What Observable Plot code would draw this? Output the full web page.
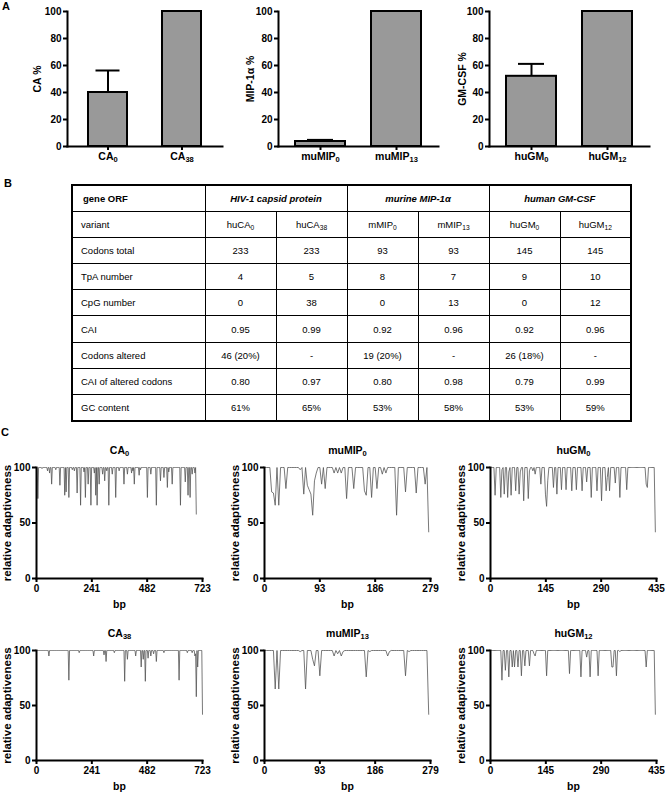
<!DOCTYPE html>
<html>
<head>
<meta charset="utf-8">
<script src="https://cdn.jsdelivr.net/npm/d3@7"></script>
<script src="https://cdn.jsdelivr.net/npm/@observablehq/plot@0.6"></script>
<style>
  body { margin: 0; background: #fff; }
  #fig { position: relative; width: 665px; height: 793px; overflow: hidden;
         font-family: "Liberation Sans", Arial, Helvetica, sans-serif; color: #000; }
  .panel { position: absolute; }
  .letter { position: absolute; font-weight: bold; font-size: 11px; line-height: 1; }
  #tbl { position: absolute; left: 71px; top: 184px; border-collapse: collapse; table-layout: fixed;
         width: 559px; border: 2px solid #000; font-size: 9.5px; }
  #tbl td { border: 1px solid #000; padding: 0; text-align: center; vertical-align: middle; white-space: nowrap; }
  #tbl tr { height: 26.2px; }
  #tbl td.lab { text-align: left; padding-left: 8px; }
  #tbl td.hd { font-weight: bold; padding-left: 10px; }
  #tbl td.grp { font-weight: bold; font-style: italic; }
  #tbl sub { font-size: 70%; vertical-align: -0.35em; line-height: 0; }
</style>
</head>
<body>
<div id="fig">
  <div class="letter" style="left:2px;top:1px;">A</div>
  <div class="letter" style="left:4px;top:178px;">B</div>
  <div class="letter" style="left:1px;top:427px;">C</div>
</div>
<script>
// ---------- Panel A data ----------
const barCatsCA = ["CA_0", "CA_38"];
const barCatsMIP = ["muMIP_0", "muMIP_13"];
const barCatsGM = ["huGM_0", "huGM_12"];
const barMeansCA = [40, 100];
const barMeansMIP = [3.7, 100];
const barMeansGM = [52, 100];
const barErrCA = [16.3, 0];
const barErrMIP = [1.2, 0];
const barErrGM = [9.2, 0];
const barLabels = ["CA %", "MIP-1α %", "GM-CSF %"];
const yTicksA = [0, 20, 40, 60, 80, 100];

// ---------- Panel B data ----------
const tableCorner = "gene ORF";
const tableGroups = ["HIV-1 capsid protein", "murine MIP-1α", "human GM-CSF"];
const tableVariantLabel = "variant";
const tableVariants = ["huCA_0", "huCA_38", "mMIP_0", "mMIP_13", "huGM_0", "huGM_12"];
const tableRowLabels = ["Codons total", "TpA number", "CpG number", "CAI", "Codons altered", "CAI of altered codons", "GC content"];
const rowCodonsTotal = ["233", "233", "93", "93", "145", "145"];
const rowTpA = ["4", "5", "8", "7", "9", "10"];
const rowCpG = ["0", "38", "0", "13", "0", "12"];
const rowCAI = ["0.95", "0.99", "0.92", "0.96", "0.92", "0.96"];
const rowAltered = ["46 (20%)", "-", "19 (20%)", "-", "26 (18%)", "-"];
const rowCAIAltered = ["0.80", "0.97", "0.80", "0.98", "0.79", "0.99"];
const rowGC = ["61%", "65%", "53%", "58%", "53%", "59%"];

// ---------- Panel C data (relative adaptiveness per codon) ----------
const lineTitles = ["CA_0", "muMIP_0", "huGM_0", "CA_38", "muMIP_13", "huGM_12"];
const xTicksCA = [0, 241, 482, 723];
const xTicksMIP = [0, 93, 186, 279];
const xTicksGM = [0, 145, 290, 435];
const yTicksC = [0, 50, 100];

const raCA0 = [100,100,72,100,100,100,100,100,99,100,
100,100,100,100,100,100,97,100,100,95,
100,100,85,100,100,100,100,100,98,100,
100,100,100,100,84,100,100,100,100,100,
100,75,100,78,100,100,100,73,100,100,
100,100,98,100,100,97,100,100,100,77,
100,100,100,100,66,100,100,100,100,96,
100,73,100,100,100,85,100,100,100,66,
100,100,100,100,95,100,75,100,66,100,
100,85,100,100,100,100,94,100,100,88,
100,100,97,100,100,66,100,100,100,100,
94,100,100,100,100,73,100,100,100,100,
97,100,100,100,100,100,100,85,100,100,
100,100,94,100,100,100,100,100,95,100,
97,100,85,100,100,100,100,100,100,93,
100,98,100,100,100,100,100,100,100,100,
100,73,100,100,100,100,94,100,100,100,
100,100,100,100,66,100,100,100,100,100,
88,100,100,100,100,91,100,100,100,100,
82,100,96,100,100,100,100,85,100,100,
100,100,100,100,100,100,100,100,100,66,
100,100,100,100,100,100,87,100,100,100,
75,100,100,73,100,100,94,100,100,100,
95,100,58];

const raCA38 = [100,100,100,100,100,100,100,100,100,100,
100,100,100,100,100,100,100,100,95,100,
100,100,100,100,100,100,100,100,100,100,
100,100,100,100,100,100,100,100,100,100,
100,100,100,100,100,100,100,73,100,100,
100,100,100,100,100,100,100,100,100,100,
100,100,98,100,100,100,100,100,100,100,
100,100,100,100,100,100,100,100,100,100,
100,100,100,95,100,100,100,100,100,100,
100,100,100,100,100,100,100,100,96,100,
100,90,100,100,100,100,100,100,100,100,
100,100,100,98,100,100,100,100,100,100,
100,100,100,100,100,100,100,100,72,100,
100,100,92,100,100,100,100,100,100,100,
100,100,100,100,95,100,100,100,100,100,
100,100,85,100,100,92,100,100,72,100,
100,100,93,100,100,100,95,100,100,100,
97,100,100,100,90,100,100,100,100,100,
100,100,100,100,100,98,100,100,100,100,
100,100,100,100,100,100,100,100,100,100,
100,100,100,100,100,100,100,73,100,100,
100,100,100,100,100,100,100,100,100,98,
100,100,100,100,100,100,98,100,100,100,
95,97,58,100,85,100,100,100,100,100,
100,42];

const raMIP0 = [100,100,100,100,78,77,66,100,66,100,
100,100,81,100,100,100,100,100,100,100,
98,100,76,100,84,80,76,57,88,95,
100,100,85,100,81,100,100,100,100,95,
100,95,100,95,100,100,72,100,100,100,
81,100,100,100,100,100,79,75,100,100,
73,100,100,81,100,100,94,100,95,100,
100,100,100,100,57,100,100,100,100,78,
100,100,100,100,100,77,100,100,100,100,
85,100,42];

const raMIP13 = [100,100,100,100,100,100,65,100,65,100,
100,100,100,100,100,100,100,100,100,100,
99,100,100,65,100,100,100,92,86,100,
100,77,100,100,100,100,100,100,100,95,
100,97,100,95,99,100,100,100,100,100,
100,100,100,100,100,100,100,76,100,99,
100,100,100,100,100,100,100,100,100,95,
99,100,100,100,100,100,100,100,100,77,
100,99,100,100,100,100,100,100,100,100,
100,100,42];

const raGM0 = [100,100,100,100,75,100,100,100,100,73,
98,100,76,100,100,73,96,100,75,100,
100,100,79,100,100,76,96,100,100,70,
100,100,100,72,97,100,100,97,100,94,
100,100,100,100,85,100,100,100,76,65,
88,100,100,100,100,82,100,100,76,100,
100,100,80,100,100,100,80,100,100,100,
100,79,100,100,100,80,100,100,100,100,
79,100,100,100,87,100,100,100,73,100,
100,100,100,79,100,100,100,70,100,100,
100,79,91,100,79,100,100,100,100,86,
100,100,100,73,100,100,100,100,100,80,
100,100,100,100,100,100,100,100,100,100,
100,100,100,100,100,100,85,82,100,100,
100,100,100,100,42];

const raGM12 = [100,100,100,100,100,100,100,100,100,100,
73,100,100,82,100,100,76,100,100,85,
100,85,100,100,85,100,100,77,100,100,
86,100,100,100,86,100,100,100,97,95,
100,100,100,100,100,100,100,100,100,77,
100,100,100,100,100,100,100,100,100,100,
100,100,100,100,100,100,100,100,100,79,
100,100,100,100,100,100,100,100,100,76,
100,100,100,100,94,100,100,76,100,100,
100,100,100,100,77,100,100,100,100,100,
100,100,100,100,100,100,85,85,100,100,
77,100,100,99,100,100,100,100,100,100,
100,100,100,100,100,100,100,100,100,100,
100,100,100,100,100,100,85,100,100,100,
100,100,100,100,42];

// ---------- helpers ----------
const FONT = '"Liberation Sans", Arial, Helvetica, sans-serif';
const SVGNS = "http://www.w3.org/2000/svg";
const fig = document.getElementById("fig");

function subscriptify(svg) {
  svg.querySelectorAll("text").forEach(t => {
    if (t.querySelector("tspan")) {
      t.querySelectorAll("tspan").forEach(ts => splitSub(ts));
    } else splitSub(t);
  });
}
function splitSub(node) {
  const s = node.textContent;
  if (!s.includes("_")) return;
  const [base, sub] = s.split("_");
  node.textContent = "";
  const a = document.createElementNS(SVGNS, "tspan");
  a.textContent = base;
  const b = document.createElementNS(SVGNS, "tspan");
  b.setAttribute("dy", "0.3em");
  b.setAttribute("style", "font-size:0.72em");
  b.textContent = sub;
  node.append(a, b);
}
function htmlSub(s) {
  if (!s.includes("_")) return s;
  const [base, sub] = s.split("_");
  return base + "<sub>" + sub + "</sub>";
}
function place(el, left, top) {
  const d = document.createElement("div");
  d.className = "panel";
  d.style.left = left + "px";
  d.style.top = top + "px";
  d.appendChild(el);
  fig.appendChild(d);
}

// ---------- Panel A ----------
function barChart({cats, means, errs, label, left, width, mL, mR, pi, po, capInset, labelDx}) {
  const data = cats.map((c, i) => ({c, m: means[i], top: means[i] + errs[i], e: errs[i]}));
  const errData = data.filter(d => d.e > 0);
  const svg = Plot.plot({
    width, height: 170,
    marginLeft: mL, marginRight: mR, marginTop: 11, marginBottom: 24,
    style: {fontFamily: FONT, fontWeight: "bold", fontSize: "10px", color: "#000", background: "transparent", overflow: "visible"},
    x: {domain: cats, paddingInner: pi, paddingOuter: po, label: null},
    y: {domain: [0, 100], label: null},
    marks: [
      Plot.ruleX(errData, {x: "c", y1: "m", y2: "top", stroke: "#000", strokeWidth: 2}),
      Plot.tickY(errData, {x: "c", y: "top", stroke: "#000", strokeWidth: 2, insetLeft: capInset, insetRight: capInset}),
      Plot.barY(data, {x: "c", y: "m", fill: "#999999", stroke: "#000", strokeWidth: 2}),
      Plot.frame({anchor: "left", stroke: "#000", strokeWidth: 2}),
      Plot.frame({anchor: "bottom", stroke: "#000", strokeWidth: 2}),
      Plot.axisY({ticks: yTicksA, tickSize: 4, tickPadding: 2, strokeWidth: 2, label: null}),
      Plot.axisX({tickSize: 4, tickPadding: 2, strokeWidth: 2, label: null, fontSize: 10.5}),
      Plot.text([label], {frameAnchor: "left", rotate: -90, dx: labelDx, textAnchor: "middle", lineAnchor: "middle", fontWeight: "bold", fontSize: 10.5})
    ]
  });
  subscriptify(svg);
  place(svg, left, 0);
}

barChart({cats: barCatsCA, means: barMeansCA, errs: barErrCA, label: barLabels[0],
  left: 0, width: 230, mL: 67, mR: 8, pi: 0.467, po: 0.267, capInset: 7.5, labelDx: -30});
barChart({cats: barCatsMIP, means: barMeansMIP, errs: barErrMIP, label: barLabels[1],
  left: 220, width: 230, mL: 58, mR: 12, pi: 0.338, po: 0.208, capInset: 12, labelDx: -28});
barChart({cats: barCatsGM, means: barMeansGM, errs: barErrGM, label: barLabels[2],
  left: 440, width: 225, mL: 49, mR: 16, pi: 0.338, po: 0.208, capInset: 12, labelDx: -27});

// ---------- Panel B ----------
(function buildTable() {
  const rows = [rowCodonsTotal, rowTpA, rowCpG, rowCAI, rowAltered, rowCAIAltered, rowGC];
  let html = '<colgroup><col style="width:133px">' + tableVariants.map(() => '<col style="width:71px">').join("") + '</colgroup>';
  html += '<tr><td class="lab hd">' + tableCorner + '</td>' + tableGroups.map(g => '<td class="grp" colspan="2">' + g + '</td>').join("") + '</tr>';
  html += '<tr><td class="lab">' + tableVariantLabel + '</td>' + tableVariants.map(v => '<td>' + htmlSub(v) + '</td>').join("") + '</tr>';
  rows.forEach((r, i) => {
    html += '<tr><td class="lab">' + tableRowLabels[i] + '</td>' + r.map(v => '<td>' + v + '</td>').join("") + '</tr>';
  });
  const t = document.createElement("table");
  t.id = "tbl";
  t.innerHTML = html;
  fig.appendChild(t);
})();

// ---------- Panel C ----------
function lineChart({title, values, xTicks, left, top, mB}) {
  const data = values.map((v, i) => ({bp: i * 3, ra: v}));
  const svg = Plot.plot({
    width: 210, height: 183,
    marginLeft: 36, marginRight: 8, marginTop: 40, marginBottom: mB,
    style: {fontFamily: FONT, fontWeight: "bold", fontSize: "10px", color: "#000", background: "transparent", overflow: "visible"},
    x: {domain: [0, xTicks[xTicks.length - 1]], label: null},
    y: {domain: [0, 100], label: null},
    marks: [
      Plot.lineY(data, {x: "bp", y: "ra", stroke: "#555", strokeWidth: 0.8}),
      Plot.frame({anchor: "left", stroke: "#000", strokeWidth: 2}),
      Plot.frame({anchor: "bottom", stroke: "#000", strokeWidth: 2}),
      Plot.axisY({ticks: yTicksC, tickSize: 4, tickPadding: 2, strokeWidth: 2, label: null}),
      Plot.axisX({ticks: xTicks, tickSize: 4, tickPadding: 2, strokeWidth: 2, label: null}),
      Plot.text([title], {frameAnchor: "top", dy: -17, textAnchor: "middle", lineAnchor: "middle", fontWeight: "bold", fontSize: 10.5}),
      Plot.text(["bp"], {frameAnchor: "bottom", dy: 26, textAnchor: "middle", lineAnchor: "middle", fontWeight: "bold", fontSize: 10.5}),
      Plot.text(["relative adaptiveness"], {frameAnchor: "left", rotate: -90, dx: -29, textAnchor: "middle", lineAnchor: "middle", fontWeight: "bold", fontSize: 11.5})
    ]
  });
  subscriptify(svg);
  place(svg, left, top);
}

const lineSeries = [raCA0, raMIP0, raGM0, raCA38, raMIP13, raGM12];
const lineTicks = [xTicksCA, xTicksMIP, xTicksGM];
const colLefts = [0, 228, 454];
lineSeries.forEach((vals, i) => {
  const col = i % 3, row = Math.floor(i / 3);
  lineChart({title: lineTitles[i], values: vals, xTicks: lineTicks[col],
    left: colLefts[col], top: row === 0 ? 427 : 610, mB: row === 0 ? 32 : 33});
});
</script>
</body>
</html>
